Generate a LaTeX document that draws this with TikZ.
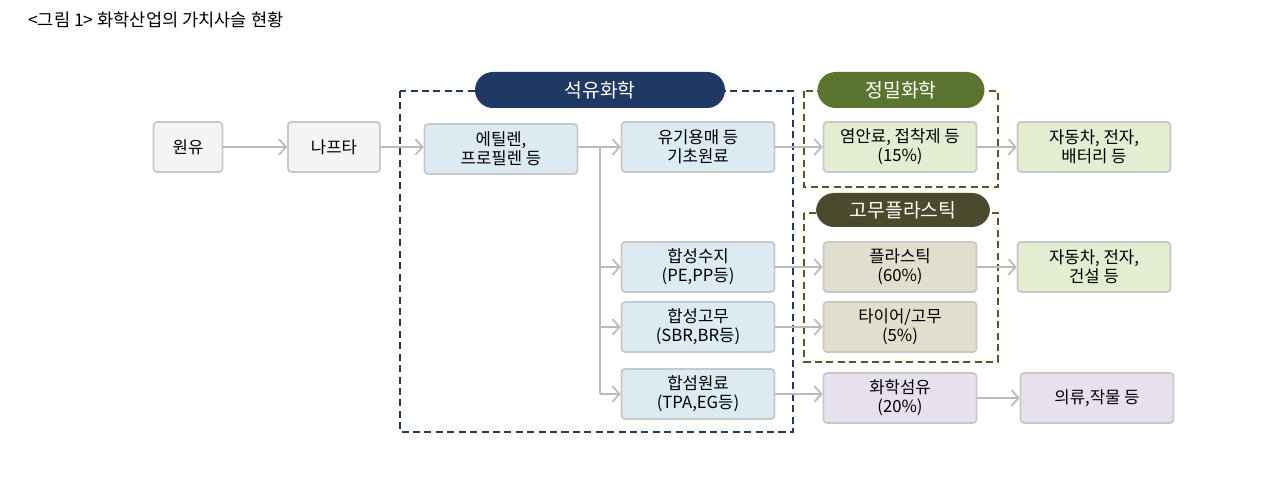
\documentclass[tikz,border=0pt]{standalone}
\usepackage{fontspec}
\setmainfont{Noto Sans CJK KR}
\usetikzlibrary{arrows.meta}
\definecolor{boxline}{HTML}{C8C8C8}
\definecolor{arrgray}{HTML}{BBBBBB}
\definecolor{rawfill}{HTML}{F4F4F4}
\definecolor{petfill}{HTML}{DCEBF2}
\definecolor{finefill}{HTML}{E3EDD1}
\definecolor{rubfill}{HTML}{E2DECD}
\definecolor{fibfill}{HTML}{E7E1EF}
\definecolor{navy}{HTML}{1F3864}
\definecolor{leaf}{HTML}{5B7531}
\definecolor{olive}{HTML}{4A4A2C}
\tikzset{
  box/.style={draw=boxline, line width=1pt, rounded corners=2pt, minimum height=1cm,
    minimum width=3.06cm, align=center, font=\fontsize{9.5}{11}\selectfont, inner sep=1pt},
  raw/.style={box, fill=rawfill},
  pet/.style={box, fill=petfill},
  fine/.style={box, fill=finefill},
  rub/.style={box, fill=rubfill},
  fib/.style={box, fill=fibfill},
  tag/.style={rounded corners=0.36cm, minimum height=0.72cm, text=white,
    font=\fontsize{11}{13}\selectfont},
  zone/.style={dashed, line width=1.3pt, dash pattern=on 4pt off 2.5pt},
  flow/.style={draw=arrgray, line width=1pt, -{Straight Barb[length=4pt,width=9pt]}}
}
\begin{document}
\begin{tikzpicture}[x=0.02cm, y=-0.02cm]
  \useasboundingbox (0,0) rectangle (1280,502);
  \node[anchor=west, font=\fontsize{10}{12}\selectfont] (title) at (22,20) {<그림 1> 화학산업의 가치사슬 현황};
  % zones
  \draw[zone, navy] (400,91) rectangle (793,432);
  \draw[zone, leaf!80!black] (804,91) rectangle (998,187);
  \draw[zone, leaf!80!black] (804,213) rectangle (998,362);
  \node[tag, fill=navy, minimum width=5cm] (petro) at (600,90) {석유화학};
  \node[tag, fill=leaf, minimum width=3.34cm] (finechem) at (901,90) {정밀화학};
  \node[tag, fill=olive, minimum width=3.48cm, minimum height=0.68cm] (rubplast) at (903,210) {고무플라스틱};
  % boxes
  \node[raw, minimum width=1.38cm] (crude) at (188,147) {원유};
  \node[raw, minimum width=1.84cm] (naphtha) at (334,147) {나프타};
  \node[pet] (olefin) at (501,149) {에틸렌,\\프로필렌 등};
  \node[pet] (basic) at (698,147) {유기용매 등\\기초원료};
  \node[pet] (resin) at (698,267) {합성수지\\(PE,PP등)};
  \node[pet] (srubber) at (698,327) {합성고무\\(SBR,BR등)};
  \node[pet] (fibraw) at (698,394) {합섬원료\\(TPA,EG등)};
  \node[fine] (dye) at (900,147) {염안료, 접착제 등\\(15\%)};
  \node[fine] (auto1) at (1094,147) {자동차, 전자,\\배터리 등};
  \node[rub] (plastic) at (900,267) {플라스틱\\(60\%)};
  \node[fine] (auto2) at (1094,267) {자동차, 전자,\\건설 등};
  \node[rub] (tire) at (900,327) {타이어/고무\\(5\%)};
  \node[fib] (chemfib) at (900,398) {화학섬유\\(20\%)};
  \node[fib] (cloth) at (1097,398) {의류,작물 등};
  % connectors
  \coordinate (split) at (600,147);
  \draw[flow] (crude) -- (naphtha);
  \draw[flow] (naphtha) -- (naphtha -| olefin.west);
  \draw[draw=arrgray, line width=1pt] (olefin.east |- split) -- (split) -- (split |- fibraw);
  \foreach \t in {basic, resin, srubber, fibraw}
    \draw[flow] (split |- \t) -- (\t.west);
  \draw[flow] (basic) -- (dye);
  \draw[flow] (dye) -- (auto1);
  \draw[flow] (resin) -- (plastic);
  \draw[flow] (plastic) -- (auto2);
  \draw[flow] (srubber) -- (tire);
  \draw[flow] (fibraw.east) -- (fibraw.east -| chemfib.west);
  \draw[flow] (chemfib) -- (cloth);
\end{tikzpicture}
\end{document}
